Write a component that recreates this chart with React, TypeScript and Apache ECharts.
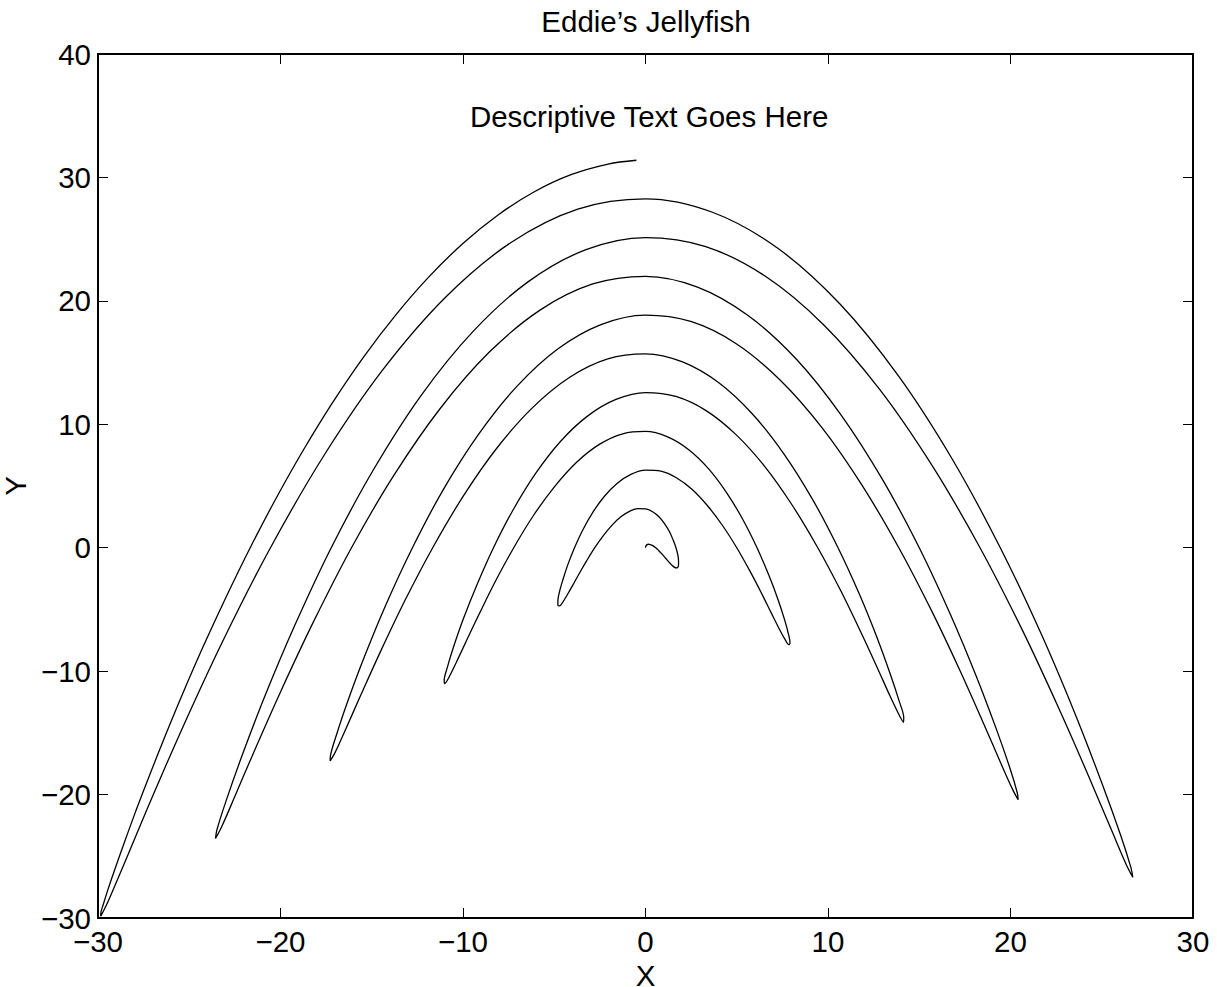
import React, { useEffect, useRef } from "react";
import * as echarts from "echarts";

// Curve points (in drawing order)
const jellyX = [
  0, 0.02, 0.07, 0.15, 0.26, 0.4, 0.56, 0.73, 0.91, 1.09, 1.26, 1.43, 1.57, 1.69, 1.77, 1.81, 1.81, 1.77, 1.67, 1.51, 1.31, 1.05, 0.75, 0.39,
  0, -0.43, -0.88, -1.35, -1.83, -2.31, -2.78, -3.22, -3.63, -3.99, -4.3, -4.54, -4.71, -4.8, -4.8, -4.72, -4.53, -4.26, -3.89, -3.43, -2.88, -2.25, -1.56, -0.8,
  0, 0.84, 1.69, 2.56, 3.4, 4.22, 5.0, 5.71, 6.35, 6.89, 7.33, 7.66, 7.85, 7.92, 7.84, 7.62, 7.26, 6.75, 6.11, 5.34, 4.45, 3.46, 2.37, 1.21,
  0, -1.25, -2.51, -3.76, -4.97, -6.14, -7.22, -8.21, -9.07, -9.8, -10.37, -10.77, -11.0, -11.03, -10.87, -10.52, -9.98, -9.24, -8.33, -7.25, -6.02, -4.66, -3.18, -1.62,
  0, 1.66, 3.32, 4.96, 6.55, 8.05, 9.44, 10.7, 11.79, 12.7, 13.4, 13.89, 14.14, 14.15, 13.91, 13.42, 12.7, 11.74, 10.55, 9.16, 7.59, 5.86, 4.0, 2.03,
  0, -2.07, -4.13, -6.16, -8.12, -9.96, -11.66, -13.19, -14.51, -15.6, -16.44, -17.0, -17.28, -17.26, -16.94, -16.33, -15.42, -14.23, -12.77, -11.08, -9.16, -7.06, -4.81, -2.44,
  0, 2.48, 4.95, 7.36, 9.69, 11.87, 13.88, 15.68, 17.23, 18.5, 19.47, 20.12, 20.42, 20.37, 19.98, 19.23, 18.14, 16.72, 15.0, 12.99, 10.73, 8.27, 5.62, 2.85,
  0, -2.89, -5.76, -8.57, -11.26, -13.79, -16.11, -18.17, -19.95, -21.41, -22.51, -23.23, -23.56, -23.49, -23.01, -22.13, -20.86, -19.21, -17.22, -14.9, -12.31, -9.47, -6.44, -3.26,
  0, 3.3, 6.57, 9.77, 12.83, 15.7, 18.33, 20.67, 22.67, 24.31, 25.54, 26.34, 26.7, 26.6, 26.05, 25.03, 23.58, 21.71, 19.44, 16.82, 13.88, 10.67, 7.25, 3.67,
  0, -3.71, -7.39, -10.97, -14.4, -17.61, -20.55, -23.16, -25.39, -27.21, -28.57, -29.46, -29.85,
  -29.85, -29.72, -29.47, -29.08, -28.57, -27.94, -27.18, -26.3, -25.31, -24.2, -22.98, -21.66, -20.24,
  -18.73, -17.13, -15.45, -13.69, -11.87, -9.99, -8.06, -6.09, -4.08, -2.05, -0.5,
];
const jellyY = [
  0, 0.13, 0.23, 0.28, 0.26, 0.17, 0, -0.24, -0.52, -0.83, -1.13, -1.39, -1.57, -1.64, -1.59, -1.39, -1.05, -0.58, 0, 0.64, 1.31, 1.94, 2.49, 2.91,
  3.14, 3.16, 2.95, 2.5, 1.83, 0.98, 0, -1.05, -2.09, -3.05, -3.85, -4.43, -4.71, -4.68, -4.31, -3.61, -2.62, -1.39, 0, 1.46, 2.88, 4.17, 5.21, 5.94,
  6.28, 6.2, 5.67, 4.72, 3.4, 1.8, 0, -1.86, -3.67, -5.28, -6.58, -7.46, -7.85, -7.71, -7.03, -5.83, -4.19, -2.2, 0, 2.27, 4.45, 6.39, 7.94, 8.98,
  9.42, 9.23, 8.39, 6.94, 4.97, 2.61, 0, -2.68, -5.24, -7.5, -9.3, -10.5, -11.0, -10.75, -9.75, -8.05, -5.76, -3.02, 0, 3.08, 6.02, 8.61, 10.66, 12.01,
  12.57, 12.26, 11.11, 9.16, 6.55, 3.42, 0, -3.49, -6.81, -9.72, -12.02, -13.53, -14.14, -13.78, -12.47, -10.27, -7.33, -3.83, 0, 3.9, 7.59, 10.83, 13.38, 15.05,
  15.71, 15.3, 13.83, 11.39, 8.12, 4.24, 0, -4.3, -8.38, -11.94, -14.74, -16.56, -17.28, -16.82, -15.19, -12.5, -8.9, -4.64, 0, 4.71, 9.16, 13.05, 16.1, 18.08,
  18.85, 18.33, 16.55, 13.61, 9.69, 5.05, 0, -5.12, -9.95, -14.16, -17.46, -19.6, -20.42, -19.85, -17.91, -14.72, -10.47, -5.45, 0, 5.52, 10.73, 15.27, 18.82, 21.12,
  21.99, 21.37, 19.27, 15.83, 11.26, 5.86, 0, -5.93, -11.52, -16.38, -20.18, -22.63, -23.56, -22.89, -20.63, -16.94, -12.04, -6.27, 0, 6.34, 12.31, 17.49, 21.54, 24.15,
  25.13, 24.4, 21.99, 18.05, 12.83, 6.67, 0, -6.74, -13.09, -18.61, -22.9, -25.67, -26.7, -25.92, -23.35, -19.16, -13.61, -7.08, 0, 7.15, 13.88, 19.72, 24.26, 27.18,
  28.27, 27.44, 24.71, 20.27, 14.4, 7.49, 0, -7.56, -14.66, -20.83, -25.62, -28.7, -29.85,
  -29.65, -28.95, -27.76, -26.07, -23.94, -21.38, -18.45, -15.18, -11.65, -7.89, -3.99, 0, 4.01,
  7.96, 11.8, 15.45, 18.85, 21.94, 24.67, 26.98, 28.84, 30.22, 31.08, 31.39,
];

const titleText = "Eddie\u2019s Jellyfish";
const noteText = "Descriptive Text Goes Here";
const notePos = [0.2, 34.9];
const xLabel = "X";
const yLabel = "Y";
const xRange = [-30, 30];
const yRange = [-30, 40];
const tickStep = 10;

const FONT = "'Liberation Sans', Arial, Helvetica, sans-serif";
const FS = 29.5;

export default function App() {
  const ref = useRef<HTMLDivElement>(null);
  useEffect(() => {
    document.body.style.margin = "0";
    if (!ref.current) return;
    const chart = echarts.init(ref.current, null, { renderer: "svg" });
    const fmt = (v: number) => String(v).replace("-", "\u2212");
    const axLine = { show: true, onZero: false, lineStyle: { color: "#000", width: 2 } };
    const axTick = { show: true, inside: true, length: 10, lineStyle: { color: "#000", width: 1 } };
    const lblBase = { fontSize: FS, lineHeight: 20, color: "#000", fontFamily: FONT, formatter: fmt, showMinLabel: true, showMaxLabel: true };
    const data = jellyX.map((x, i) => [x, jellyY[i]]);
    chart.setOption({
      animation: false,
      textStyle: { fontFamily: FONT },
      title: {
        text: titleText,
        left: 641,
        top: 1,
        textAlign: "center",
        textStyle: { fontSize: FS, fontWeight: "normal", color: "#000", fontFamily: FONT },
      },
      grid: { left: 98, right: 24, top: 54, bottom: 69, outerBoundsMode: "none", containLabel: false },
      xAxis: [
        {
          type: "value", min: xRange[0], max: xRange[1], interval: tickStep, position: "bottom",
          name: xLabel, nameLocation: "middle", nameGap: 37,
          nameTextStyle: { fontSize: FS, lineHeight: 20, color: "#000", fontFamily: FONT },
          axisLine: axLine, axisTick: axTick, axisLabel: { ...lblBase, margin: 13 }, splitLine: { show: false },
        },
        {
          type: "value", min: xRange[0], max: xRange[1], interval: tickStep, position: "top",
          axisLine: axLine, axisTick: axTick, axisLabel: { show: false }, splitLine: { show: false },
        },
      ],
      yAxis: [
        {
          type: "value", min: yRange[0], max: yRange[1], interval: tickStep, position: "left",
          name: yLabel, nameLocation: "middle", nameGap: 60, nameRotate: 90,
          nameTextStyle: { fontSize: FS, color: "#000", fontFamily: FONT },
          axisLine: axLine, axisTick: axTick, axisLabel: { ...lblBase, margin: 7 }, splitLine: { show: false },
        },
        {
          type: "value", min: yRange[0], max: yRange[1], interval: tickStep, position: "right",
          axisLine: axLine, axisTick: axTick, axisLabel: { show: false }, splitLine: { show: false },
        },
      ],
      series: [
        {
          type: "line",
          data,
          xAxisIndex: 0,
          yAxisIndex: 0,
          showSymbol: false,
          smooth: 0.33,
          lineStyle: { color: "#000", width: 1.3 },
          silent: true,
        },
      ],
    });
    const p = chart.convertToPixel({ gridIndex: 0 }, notePos) as number[];
    chart.setOption({
      graphic: [
        {
          type: "text",
          x: p[0],
          y: p[1],
          silent: true,
          style: {
            text: noteText,
            fill: "#000",
            fontSize: FS,
            fontFamily: FONT,
            align: "center",
            verticalAlign: "middle",
          },
        },
      ],
    });
    return () => chart.dispose();
  }, []);
  return <div ref={ref} style={{ width: 1217, height: 987 }} />;
}
